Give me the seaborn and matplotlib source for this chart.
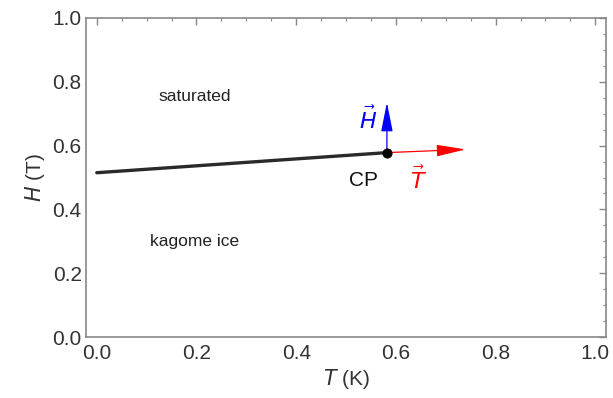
import matplotlib
matplotlib.use("Agg")
import matplotlib.pyplot as plt
import seaborn as sns
import pandas as pd
from matplotlib.ticker import MultipleLocator

sns.set_theme(style="white")
plt.rcParams['font.family'] = ['Liberation Sans', 'DejaVu Sans']

# data
line_T = [0.0, 0.582]
line_H = [0.515, 0.578]
cp_T = [0.582]
cp_H = [0.578]
arrow_T_end = [0.74, 0.588]
arrow_H_end = [0.582, 0.735]

fig = plt.figure(figsize=(6.13, 3.98), dpi=100)
ax = fig.add_axes([0.140, 0.153, 0.849, 0.802])

df = pd.DataFrame({"T": line_T, "H": line_H})
sns.lineplot(data=df, x="T", y="H", ax=ax, color="#2a2a2a", linewidth=2.4)
sns.scatterplot(x=cp_T, y=cp_H, ax=ax, color="black", s=45, zorder=5, edgecolor="black")

ax.annotate("", xy=(arrow_T_end[0], arrow_T_end[1]), xytext=(cp_T[0], cp_H[0]),
            arrowprops=dict(arrowstyle="-|>,head_length=1.5,head_width=0.3", color="red", lw=0.9,
                            shrinkA=0, shrinkB=0))
ax.annotate("", xy=(arrow_H_end[0], arrow_H_end[1]), xytext=(cp_T[0], cp_H[0]),
            arrowprops=dict(arrowstyle="-|>,head_length=1.5,head_width=0.3", color="blue", lw=0.9,
                            shrinkA=0, shrinkB=0))

ax.text(0.196, 0.755, "saturated", ha="center", va="center", fontsize=12.5, color="#222222")
ax.text(0.196, 0.30, "kagome ice", ha="center", va="center", fontsize=12.5, color="#222222")
ax.text(0.535, 0.49, "CP", ha="center", va="center", fontsize=15, color="#111111")
ax.text(0.545, 0.68, r"$\vec{H}$", ha="center", va="center", fontsize=16, color="blue")
ax.text(0.645, 0.49, r"$\vec{T}$", ha="center", va="center", fontsize=16, color="red")

ax.set_xlim(-0.022, 1.022)
ax.set_ylim(0, 1.0)
ax.xaxis.set_major_locator(MultipleLocator(0.2))
ax.xaxis.set_minor_locator(MultipleLocator(0.05))
ax.yaxis.set_major_locator(MultipleLocator(0.2))
ax.yaxis.set_minor_locator(MultipleLocator(0.05))
ax.tick_params(which="both", direction="in", top=True, right=True, color="#888888",
               labelsize=15, labelcolor="#333333")
ax.tick_params(which="major", length=5, width=1, pad=3)
ax.tick_params(axis="x", which="major", pad=5)
ax.tick_params(which="minor", length=2.5, width=0.8)
ax.set_xticklabels([f"{v:.1f}" for v in ax.get_xticks()])
ax.set_yticklabels([f"{v:.1f}" for v in ax.get_yticks()])
for s in ax.spines.values():
    s.set_color("#888888")
    s.set_linewidth(1.2)

ax.set_xlabel(r"$T$ (K)", fontsize=15, color="#333333", labelpad=3)
ax.set_ylabel(r"$H$ (T)", fontsize=15, color="#333333", labelpad=4)

fig.savefig("out.png", dpi=100)
